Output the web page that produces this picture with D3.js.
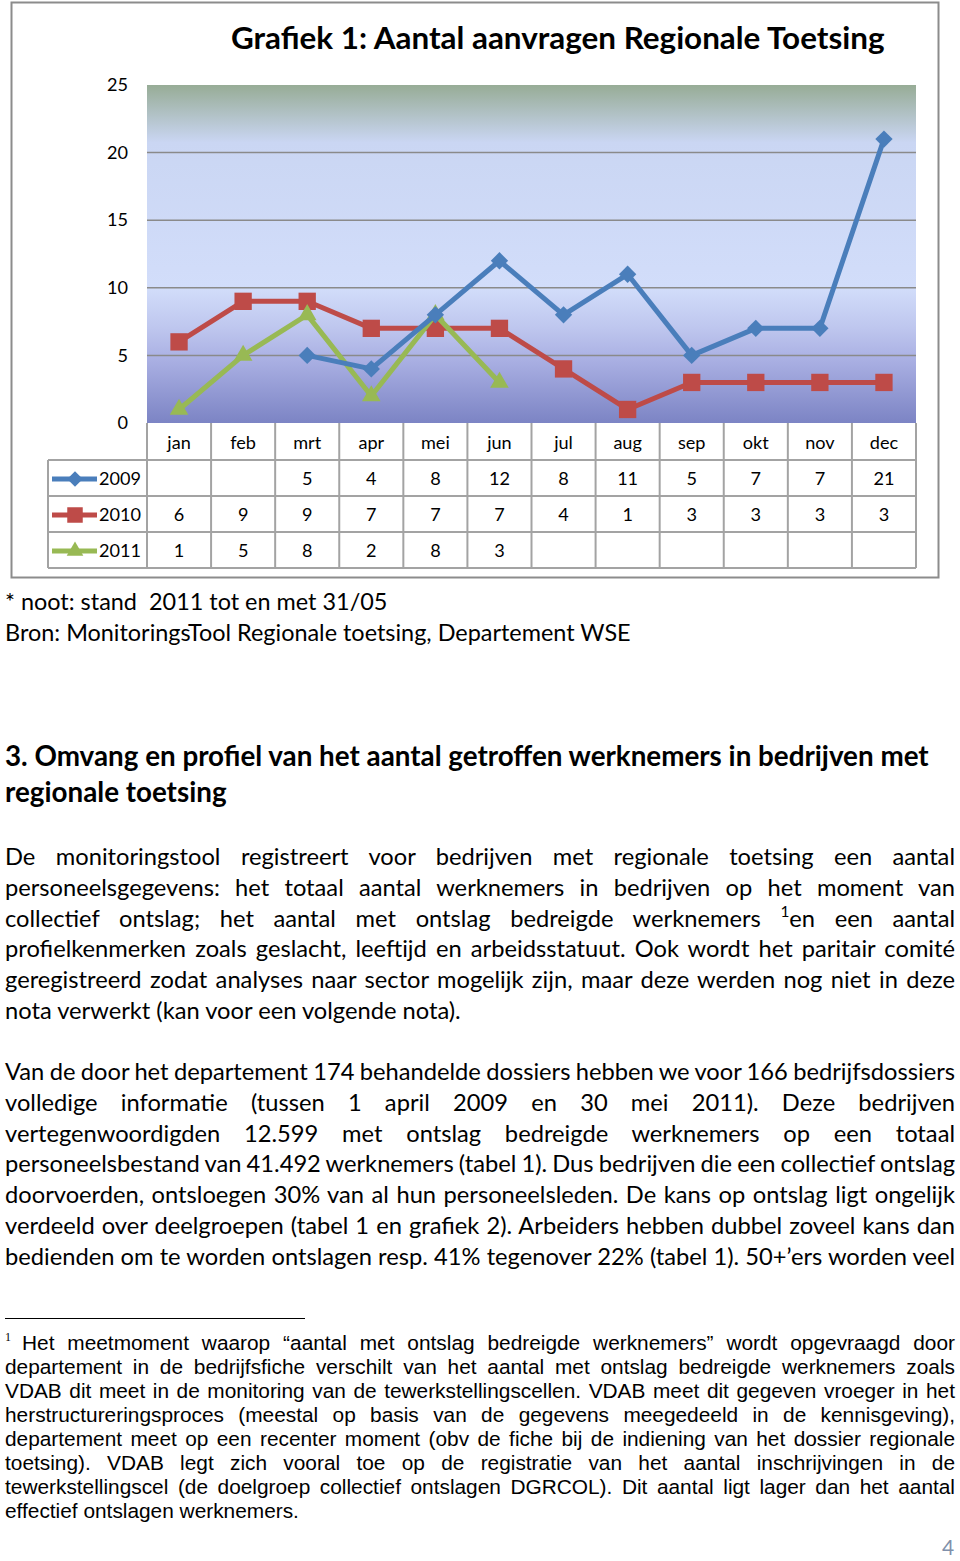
<!DOCTYPE html>
<html>
<head>
<meta charset="utf-8">
<script src="https://cdn.jsdelivr.net/npm/d3@7"></script>
<style>
  body { margin: 0; background: #fff; }
  svg { display: block; }
</style>
</head>
<body>
<svg id="page" width="960" height="1561"></svg>
<script>
// chart data
var months = ["jan", "feb", "mrt", "apr", "mei", "jun", "jul", "aug", "sep", "okt", "nov", "dec"];
var years = ["2009", "2010", "2011"];
var v2009 = [null, null, 5, 4, 8, 12, 8, 11, 5, 7, 7, 21];
var v2010 = [6, 9, 9, 7, 7, 7, 4, 1, 3, 3, 3, 3];
var v2011 = [1, 5, 8, 2, 8, 3, null, null, null, null, null, null];
var yTicks = [0, 5, 10, 15, 20, 25];
var title = "Grafiek 1: Aantal aanvragen Regionale Toetsing";

// page text
var noteLines = ["* noot: stand  2011 tot en met 31/05",
  "Bron: MonitoringsTool Regionale toetsing, Departement WSE"];
var headingLines = ["3. Omvang en profiel van het aantal getroffen werknemers in bedrijven met",
  "regionale toetsing"];
var para1 = [
  "De monitoringstool registreert voor bedrijven met regionale toetsing een aantal",
  "personeelsgegevens: het totaal aantal werknemers in bedrijven op het moment van",
  "collectief ontslag; het aantal met ontslag bedreigde werknemers ¹en een aantal",
  "profielkenmerken zoals geslacht, leeftijd en arbeidsstatuut. Ook wordt het paritair comité",
  "geregistreerd zodat analyses naar sector mogelijk zijn, maar deze werden nog niet in deze",
  "nota verwerkt (kan voor een volgende nota)."];
var para2 = [
  "Van de door het departement 174 behandelde dossiers hebben we voor 166 bedrijfsdossiers",
  "volledige informatie (tussen 1 april 2009 en 30 mei 2011). Deze bedrijven",
  "vertegenwoordigden 12.599 met ontslag bedreigde werknemers op een totaal",
  "personeelsbestand van 41.492 werknemers (tabel 1). Dus bedrijven die een collectief ontslag",
  "doorvoerden, ontsloegen 30% van al hun personeelsleden. De kans op ontslag ligt ongelijk",
  "verdeeld over deelgroepen (tabel 1 en grafiek 2). Arbeiders hebben dubbel zoveel kans dan",
  "bedienden om te worden ontslagen resp. 41% tegenover 22% (tabel 1). 50+’ers worden veel"];
var footLines = [
  "Het meetmoment waarop “aantal met ontslag bedreigde werknemers” wordt opgevraagd door",
  "departement in de bedrijfsfiche verschilt van het aantal met ontslag bedreigde werknemers zoals",
  "VDAB dit meet in de monitoring van de tewerkstellingscellen. VDAB meet dit gegeven vroeger in het",
  "herstructureringsproces (meestal op basis van de gegevens meegedeeld in de kennisgeving),",
  "departement meet op een recenter moment (obv de fiche bij de indiening van het dossier regionale",
  "toetsing). VDAB legt zich vooral toe op de registratie van het aantal inschrijvingen in de",
  "tewerkstellingscel (de doelgroep collectief ontslagen DGRCOL). Dit aantal ligt lager dan het aantal",
  "effectief ontslagen werknemers."];

var colors = ["#4a7ebb", "#be4b48", "#98b954"];
var series = [v2009, v2010, v2011];

var svg = d3.select("#page");
var sans = "Lato, 'Open Sans', sans-serif";
var arial = "'Liberation Sans', Arial, sans-serif";

// font size so that a sample string gets the width seen in the picture
function fitSize(str, family, weight, target) {
  var t = svg.append("text").style("font-family", family).attr("font-weight", weight)
    .attr("font-size", 100).text(str);
  var w = t.node().getComputedTextLength();
  t.remove();
  return 100 * target / w;
}

// ---------- chart ----------
var plotL = 147, plotR = 916, plotT = 85, plotB = 423;
var x = d3.scaleBand().domain(months).range([plotL, plotR]);
var y = d3.scaleLinear().domain([0, 25]).range([plotB, plotT]);
var bw = x.bandwidth();
var rowH = 36;
var tableTop = plotB + 37;

svg.append("rect").attr("x", 11.5).attr("y", 2.5).attr("width", 927).attr("height", 575)
  .attr("fill", "#fff").attr("stroke", "#8c8c8c").attr("stroke-width", 2);

var titleSize = fitSize(title, sans, "bold", 654);
svg.append("text").attr("x", 231).attr("y", 49).attr("font-weight", "bold")
  .style("font-family", sans).attr("font-size", titleSize).attr("fill", "#000").text(title);

var grad = svg.append("defs").append("linearGradient").attr("id", "bg")
  .attr("x1", 0).attr("y1", 0).attr("x2", 0).attr("y2", 1);
[[0, "#97ac96"], [0.17, "#cad6f3"], [0.6, "#d2ddfa"], [0.72, "#bec6ee"],
 [0.82, "#a8aee2"], [1, "#7c84c4"]].forEach(function(s) {
  grad.append("stop").attr("offset", s[0]).attr("stop-color", s[1]);
});

svg.append("rect").attr("x", plotL).attr("y", plotT).attr("width", plotR - plotL)
  .attr("height", plotB - plotT).attr("fill", "url(#bg)");

svg.append("g").selectAll("line").data(yTicks.filter(function(d) { return d > 0 && d < 25; }))
  .enter().append("line")
  .attr("x1", plotL).attr("x2", plotR)
  .attr("y1", function(d) { return y(d); }).attr("y2", function(d) { return y(d); })
  .attr("stroke", "#8a8a8a").attr("stroke-width", 1.5);

var labelSize = fitSize("2009", sans, "normal", 42);

var yAxis = svg.append("g").attr("transform", "translate(" + plotL + ",0)")
  .call(d3.axisLeft(y).tickValues(yTicks).tickSize(0).tickPadding(19));
yAxis.select(".domain").remove();
yAxis.selectAll("text").style("font-family", sans).attr("font-size", labelSize).attr("fill", "#000");

// data table
var tbl = svg.append("g").attr("stroke", "#a3a3a3").attr("stroke-width", 2);
var edges = months.map(function(m) { return x(m); }).concat([plotR]);
tbl.selectAll(".v").data(edges).enter().append("line")
  .attr("x1", function(d) { return d; }).attr("x2", function(d) { return d; })
  .attr("y1", plotB).attr("y2", tableTop + rowH * 3);
tbl.append("line").attr("x1", 48).attr("x2", 48).attr("y1", tableTop).attr("y2", tableTop + rowH * 3);
tbl.selectAll(".h").data([0, 1, 2, 3]).enter().append("line")
  .attr("x1", 48).attr("x2", plotR)
  .attr("y1", function(d) { return tableTop + d * rowH; })
  .attr("y2", function(d) { return tableTop + d * rowH; });

svg.append("g").selectAll("text").data(months).enter().append("text")
  .attr("x", function(d) { return x(d) + bw / 2; }).attr("y", plotB + 26)
  .attr("text-anchor", "middle").style("font-family", sans).attr("font-size", labelSize)
  .text(function(d) { return d; });

var symTypes = [d3.symbolSquare, d3.symbolSquare, d3.symbolTriangle];
var symSizes = [150, 300, 150];
var symRot = [45, 0, 0];
function marker(g, i, cx, cy, scale) {
  g.append("path")
    .attr("d", d3.symbol().type(symTypes[i]).size(symSizes[i] * (scale || 1))())
    .attr("transform", "translate(" + cx + "," + cy + ") rotate(" + symRot[i] + ")")
    .attr("fill", colors[i]);
}

years.forEach(function(yr, i) {
  var ry = tableTop + i * rowH;
  var g = svg.append("g").style("font-family", sans);
  g.append("line").attr("x1", 52).attr("x2", 97).attr("y1", ry + rowH / 2 + 1).attr("y2", ry + rowH / 2 + 1)
    .attr("stroke", colors[i]).attr("stroke-width", 5);
  marker(g, i, 75, ry + rowH / 2 + 1, 0.8);
  g.append("text").attr("x", 99).attr("y", ry + 25).attr("font-size", labelSize).text(yr);
  series[i].forEach(function(d, j) {
    if (d === null) return;
    g.append("text").attr("x", x(months[j]) + bw / 2).attr("y", ry + 25)
      .attr("text-anchor", "middle").attr("font-size", labelSize).text(d);
  });
});

// lines and markers, 2009 drawn last so it stays on top like the original
var line = d3.line()
  .defined(function(d) { return d !== null; })
  .x(function(d, j) { return x(months[j]) + bw / 2; })
  .y(function(d) { return y(d); });

[1, 2, 0].forEach(function(i) {
  var g = svg.append("g");
  g.append("path").datum(series[i]).attr("d", line)
    .attr("fill", "none").attr("stroke", colors[i]).attr("stroke-width", 5)
    .attr("stroke-linejoin", "round");
  series[i].forEach(function(d, j) {
    if (d === null) return;
    marker(g, i, x(months[j]) + bw / 2, y(d));
  });
});

// ---------- text below the chart ----------
function writeLines(lines, o) {
  lines.forEach(function(str, k) {
    var t = svg.append("text").attr("x", o.x).attr("y", o.y0 + k * o.dy)
      .style("font-family", o.family).attr("font-size", o.size)
      .attr("font-weight", o.weight || "normal").attr("fill", "#000")
      .style("white-space", "pre");
    var parts = str.split("¹");
    t.append("tspan").text(parts[0]);
    if (parts.length > 1) {
      t.append("tspan").attr("dy", -o.size * 0.4).attr("font-size", o.size * 0.65).text("1");
      t.append("tspan").attr("dy", o.size * 0.4).text(parts[1]);
    }
    var justify = o.justify && (k < lines.length - 1 || o.justifyLast);
    if (justify) {
      var w = t.node().getComputedTextLength();
      var spaces = str.split(" ").length - 1;
      if (spaces > 0) t.attr("word-spacing", (o.right - o.x - w) / spaces);
    }
  });
}

var noteSize = fitSize(noteLines[1], sans, "normal", 626);
writeLines(noteLines, { x: 5, y0: 610, dy: 31, size: noteSize, family: sans });

var headSize = fitSize(headingLines[0], sans, "bold", 924);
writeLines(headingLines, { x: 5, y0: 766, dy: 36, size: headSize, family: sans, weight: "bold" });

var bodySize = fitSize(para1[5], sans, "normal", 456);
writeLines(para1, { x: 5, y0: 865, dy: 30.8, size: bodySize, family: sans, justify: true, right: 955 });
writeLines(para2, { x: 5, y0: 1080, dy: 30.8, size: bodySize, family: sans, justify: true,
  justifyLast: true, right: 955 });

svg.append("line").attr("x1", 5).attr("x2", 305).attr("y1", 1318.5).attr("y2", 1318.5)
  .attr("stroke", "#000").attr("stroke-width", 1);

var footSize = fitSize(footLines[7], arial, "normal", 294);
svg.append("text").attr("x", 5).attr("y", 1341).style("font-family", "'Liberation Serif', serif")
  .attr("font-size", 12).text("1");
writeLines(footLines.slice(0, 1), { x: 22, y0: 1350, dy: 24, size: footSize, family: arial,
  justify: true, justifyLast: true, right: 955 });
writeLines(footLines.slice(1), { x: 5, y0: 1374, dy: 24, size: footSize, family: arial,
  justify: true, right: 955 });

svg.append("text").attr("x", 948).attr("y", 1555).attr("text-anchor", "middle")
  .style("font-family", sans).attr("font-size", 21).attr("fill", "#8090aa").text("4");
</script>
</body>
</html>
